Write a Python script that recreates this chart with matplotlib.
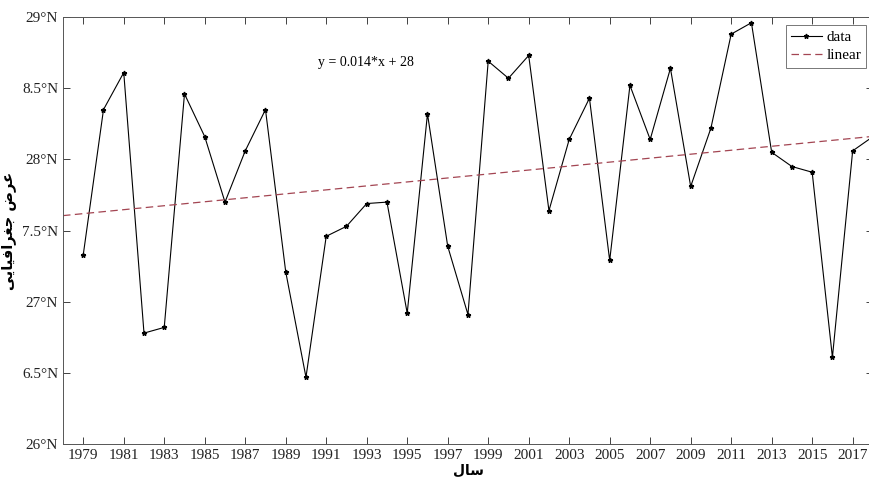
import numpy as np
import matplotlib
matplotlib.use("Agg")
import matplotlib.pyplot as plt

# annual values
years = list(range(1979, 2019))
values = [27.33, 28.35, 28.61, 26.78, 26.82, 28.46, 28.16, 27.70, 28.06, 28.35,
          27.21, 26.47, 27.46, 27.53, 27.69, 27.70, 26.92, 28.32, 27.39, 26.91,
          28.69, 28.57, 28.73, 27.64, 28.14, 28.43, 27.29, 28.52, 28.14, 28.64,
          27.81, 28.22, 28.88, 28.96, 28.05, 27.95, 27.91, 26.61, 28.06, 28.16]
ytick_vals = [26, 26.5, 27, 27.5, 28, 28.5, 29]
ytick_labels = ["26°N", "6.5°N", "27°N", "7.5°N", "28°N", "8.5°N", "29°N"]
xtick_vals = list(range(1979, 2018, 2))
equation = "y = 0.014*x + 28"

# Persian labels, pre-shaped (presentation forms, visual order)
xlabel_fa = "\ufedd\ufe8e\ufeb3"                                   # سال
ylabel_fa = "\ufef0\ufef3\ufe8e\ufef4\ufed3\ufe8d\ufeae\ufed0\ufe9f \ufebd\ufeae\ufecb"  # عرض جغرافیایی

plt.rcParams["font.family"] = ["Liberation Serif", "DejaVu Serif"]

fig = plt.figure(figsize=(8.69, 4.87), dpi=100)
ax = fig.add_axes([0.0725, 0.088, 0.932, 0.877])

ax.plot(years, values, color="black", lw=0.8, marker="*", ms=3.5, label="data")

slope, icpt = np.polyfit(years, values, 1)
xs = np.array([1978, 2018])
ax.plot(xs, slope * xs + icpt, ls=(0, (6, 3.5)), color="#a34552", lw=0.9, label="linear")

ax.set_xlim(1978, 2018)
ax.set_ylim(26, 29)
ax.set_xticks(xtick_vals)
ax.set_yticks(ytick_vals)
ax.set_yticklabels(ytick_labels)
ax.tick_params(direction="in", top=True, right=True, length=5, width=0.6,
               labelsize=11, colors="#222222")
for s in ax.spines.values():
    s.set_linewidth(0.7)
    s.set_color("#555555")

ax.text(1990.6, 28.68, equation, fontsize=10, va="center")

ax.set_xlabel(xlabel_fa, family=["DejaVu Sans"], fontweight="bold", fontsize=10, labelpad=1)
ax.set_ylabel(ylabel_fa, family=["DejaVu Sans"], fontweight="bold", fontsize=10.5, labelpad=4)

leg = ax.legend(loc="upper right", fontsize=11, frameon=True, fancybox=False,
                edgecolor="#555555", borderpad=0.35, handlelength=2.0,
                handletextpad=0.3, labelspacing=0.3, borderaxespad=0.0,
                bbox_to_anchor=(0.992, 0.981))
leg.get_frame().set_linewidth(0.7)

fig.savefig("out.png", dpi=100)
